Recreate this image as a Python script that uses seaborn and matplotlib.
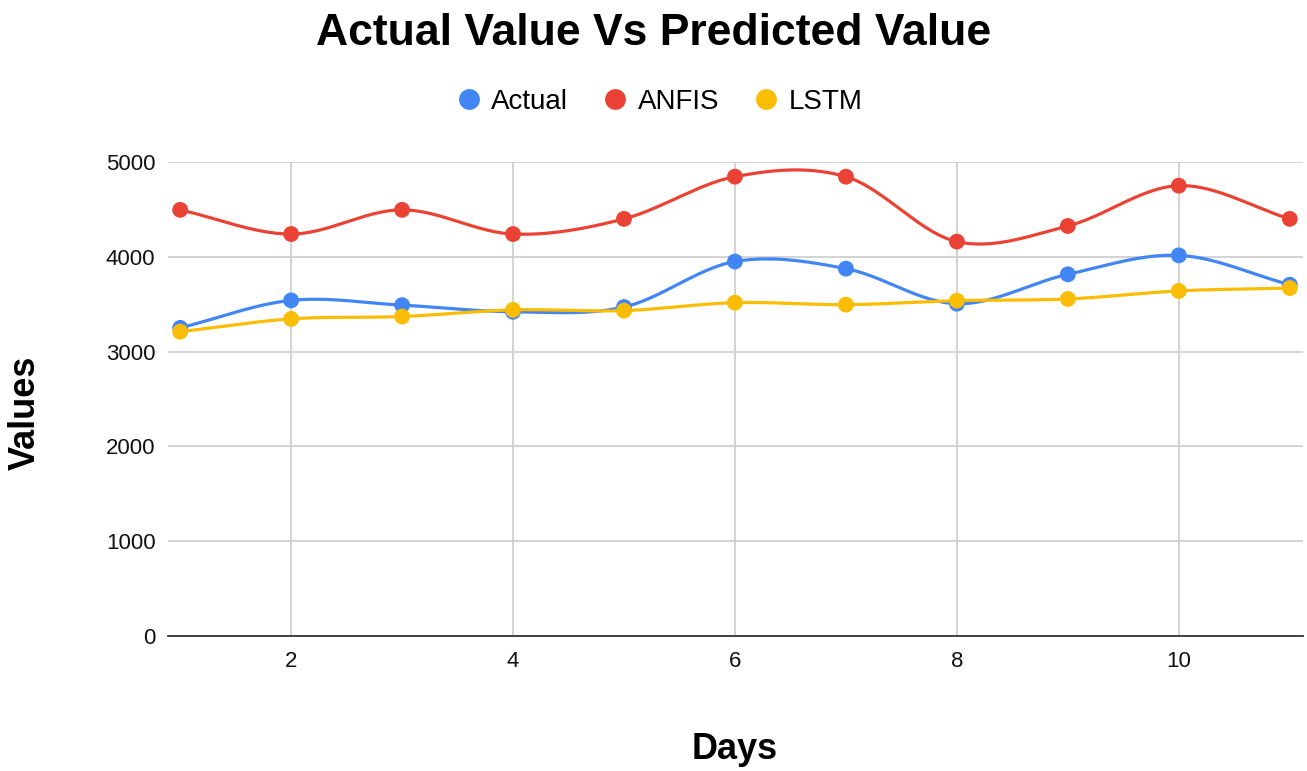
"""
Actual vs predicted values (ANFIS, LSTM) over 11 days
"""

import numpy as np
import pandas as pd
import matplotlib
matplotlib.use("Agg")
import matplotlib.pyplot as plt
from matplotlib.lines import Line2D
import seaborn as sns

# ── Data ────────────────────────────────────────────────────────────────────
days   = [1, 2, 3, 4, 5, 6, 7, 8, 9, 10, 11]
actual = [3250, 3540, 3490, 3420, 3470, 3950, 3875, 3505, 3815, 4015, 3705]
anfis  = [4495, 4240, 4495, 4240, 4400, 4845, 4845, 4160, 4325, 4750, 4400]
lstm   = [3210, 3345, 3370, 3440, 3432, 3516, 3495, 3537, 3555, 3640, 3670]

series = {"Actual": actual, "ANFIS": anfis, "LSTM": lstm}
colors = {"Actual": "#4285F4", "ANFIS": "#EA4335", "LSTM": "#FBBC04"}


def smooth(x, y, n=30):
    # Catmull-Rom style curve through the points (like the "smooth" line option)
    x = np.asarray(x, float)
    y = np.asarray(y, float)
    m = np.empty_like(y)
    m[1:-1] = (y[2:] - y[:-2]) / (x[2:] - x[:-2])
    m[0] = (y[1] - y[0]) / (x[1] - x[0])
    m[-1] = (y[-1] - y[-2]) / (x[-1] - x[-2])
    xs, ys = [], []
    for i in range(len(x) - 1):
        h = x[i + 1] - x[i]
        t = np.linspace(0, 1, n, endpoint=False)
        h00 = 2 * t**3 - 3 * t**2 + 1
        h10 = t**3 - 2 * t**2 + t
        h01 = -2 * t**3 + 3 * t**2
        h11 = t**3 - t**2
        xs.append(x[i] + t * h)
        ys.append(h00 * y[i] + h10 * h * m[i] + h01 * y[i + 1] + h11 * h * m[i + 1])
    xs.append([x[-1]])
    ys.append([y[-1]])
    return np.concatenate(xs), np.concatenate(ys)


pts = pd.DataFrame(
    [(d, v, name) for name, vals in series.items() for d, v in zip(days, vals)],
    columns=["day", "value", "series"],
)
curves = []
for name, vals in series.items():
    sx, sy = smooth(days, vals)
    curves.append(pd.DataFrame({"day": sx, "value": sy, "series": name}))
curves = pd.concat(curves, ignore_index=True)

# ── Plot ────────────────────────────────────────────────────────────────────
sns.set_theme(style="white")
plt.rcParams["font.family"] = ["Liberation Sans", "DejaVu Sans"]
plt.rcParams["text.color"] = "black"

fig = plt.figure(figsize=(13.07, 7.71), dpi=100)
ax = fig.add_axes([0.1285, 0.1751, 0.8685, 0.6148])

sns.lineplot(data=curves, x="day", y="value", hue="series", palette=colors,
             linewidth=2.3, ax=ax, legend=False, sort=False, estimator=None)
sns.scatterplot(data=pts, x="day", y="value", hue="series", palette=colors,
                s=130, edgecolor="none", ax=ax, legend=False, zorder=5)

ax.set_xlim(0.89, 11.12)
ax.set_ylim(0, 5000)
ax.set_xticks([2, 4, 6, 8, 10])
ax.set_yticks([0, 1000, 2000, 3000, 4000, 5000])
ax.grid(True, color="#cccccc", linewidth=1.2)
ax.set_axisbelow(True)
for side in ["top", "right", "left"]:
    ax.spines[side].set_visible(False)
ax.spines["bottom"].set_color("#333333")
ax.spines["bottom"].set_linewidth(1.3)
ax.tick_params(axis="both", length=0, labelsize=16, colors="#111111")
ax.tick_params(axis="x", pad=11)
ax.tick_params(axis="y", pad=9)

ax.set_xlabel("")
ax.set_ylabel("")
fig.text(0.5624, 0.028, "Days", ha="center", va="center",
         fontsize=26, fontweight="bold")
fig.text(0.019, 0.465, "Values", ha="center", va="center", rotation=90,
         fontsize=26, fontweight="bold")
fig.text(0.5, 0.957, "Actual Value Vs Predicted Value", ha="center", va="center",
         fontsize=32, fontweight="bold")

handles = [Line2D([], [], marker="o", linestyle="none", markersize=15,
                  markerfacecolor=colors[k], markeredgecolor="none", label=k)
           for k in series]
fig.legend(handles=handles, loc="center", bbox_to_anchor=(0.504, 0.868),
           ncol=3, frameon=False, fontsize=20, handletextpad=0.3,
           columnspacing=1.2, handlelength=1.0)

plt.savefig("out.png", dpi=100)
plt.close()
